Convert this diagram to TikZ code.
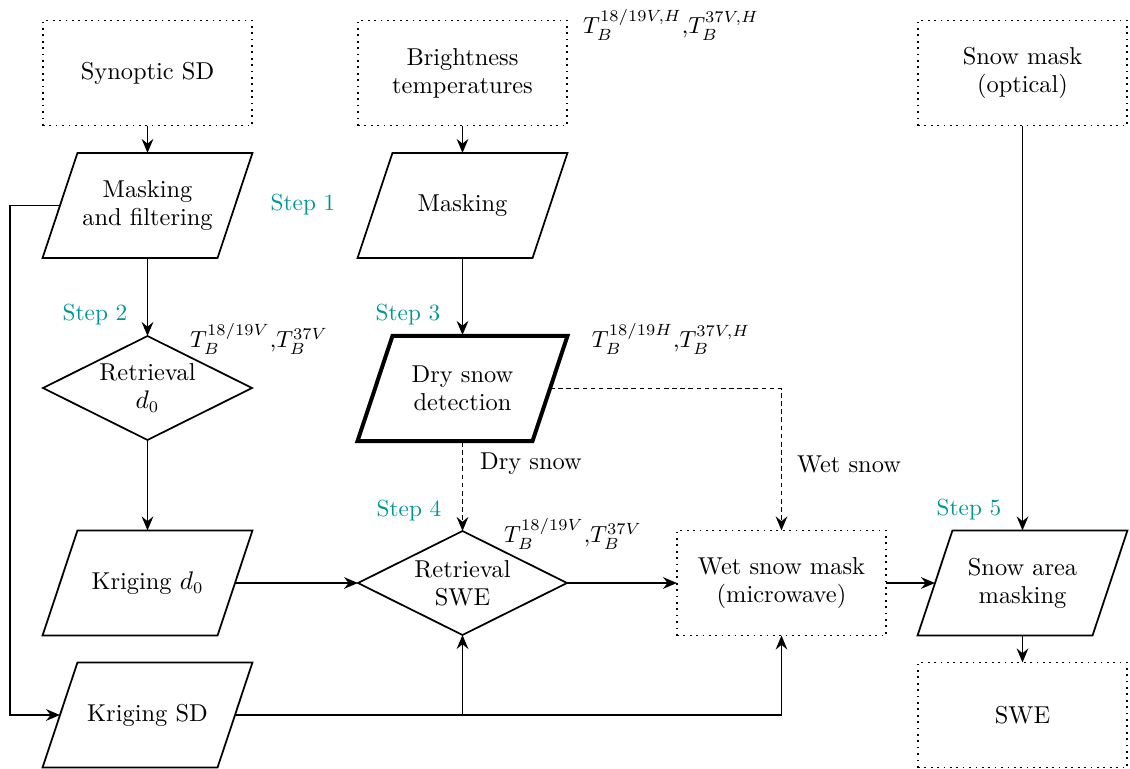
\documentclass[tikz,border=0pt]{standalone}
\usetikzlibrary{shapes.geometric,arrows.meta,calc}
\definecolor{stepcol}{RGB}{0,150,150}
\begin{document}
\begin{tikzpicture}[x=0.43pt,y=-0.43pt,
  every node/.style={outer sep=0pt,font=\fontsize{10.5}{12}\selectfont},
  base/.style={line width=0.75pt,align=center,inner sep=2pt},
  dbox/.style={base,draw,rectangle,dotted,minimum width=89.9pt,minimum height=45.2pt},
  para/.style={base,rectangle,minimum width=75.25pt,minimum height=45.2pt},
  dia/.style={base,draw,diamond,aspect=2,minimum width=89.9pt,minimum height=44.7pt,inner sep=0pt},
  conn/.style={line width=0.75pt,-{Stealth[length=6pt,width=5pt,inset=2pt]}},
  dconn/.style={conn,dash pattern=on 2pt off 1.5pt},
  steplbl/.style={text=stepcol,font=\normalsize},
  tb/.style={inner sep=0pt,font=\normalsize}]
\useasboundingbox (0,0) rectangle (1130,769);
% column 1
\node[dbox] (syn) at (147.5,73) {Synoptic SD};
\node[para] (mf) at (147.5,205.5) {Masking\\and filtering};
\node[dia] (rd) at (147.5,388) {Retrieval\\$d_0$};
\node[para] (kd) at (147.5,583) {Kriging $d_0$};
\node[para] (ks) at (147.5,715) {Kriging SD};
% column 2
\node[dbox] (bt) at (462.5,73) {Brightness\\temperatures};
\node[para] (mk) at (462.5,205.5) {Masking};
\node[para] (dry) at (462.5,388.5) {Dry snow\\detection};
\node[dia] (rs) at (462.5,583) {Retrieval\\SWE};
% column 3
\node[dbox] (wet) at (781.5,583) {Wet snow mask\\(microwave)};
% column 4
\node[dbox] (som) at (1022.5,73) {Snow mask\\(optical)};
\node[para] (sam) at (1022.5,583) {Snow area\\masking};
\node[dbox] (swe) at (1022.5,715) {SWE};
% parallelogram outlines
\foreach \n in {mf,mk,kd,ks,sam}{
  \draw[line width=0.75pt] ($(\n.north west)+(17.5,0)$) -- ($(\n.north east)+(17.5,0)$)
    -- ($(\n.south east)+(-17.5,0)$) -- ($(\n.south west)+(-17.5,0)$) -- cycle;}
\draw[line width=1.7pt] ($(dry.north west)+(17.5,0)$) -- ($(dry.north east)+(17.5,0)$)
    -- ($(dry.south east)+(-17.5,0)$) -- ($(dry.south west)+(-17.5,0)$) -- cycle;
% labels
\node[steplbl] (s1) at (303,205) {Step 1};
\node[steplbl] (s2) at (95,315) {Step 2};
\node[steplbl] (s3) at (408,315) {Step 3};
\node[steplbl] (s4) at (409,511) {Step 4};
\node[steplbl] (s5) at (969,510) {Step 5};
\node[tb] (t1) at (671,25) {$T_B^{18/19V,H}$,$T_B^{37V,H}$};
\node[tb] (t2) at (259,339) {$T_B^{18/19V}$,$T_B^{37V}$};
\node[tb] (t3) at (671,339) {$T_B^{18/19H}$,$T_B^{37V,H}$};
\node[tb] (t4) at (573,534) {$T_B^{18/19V}$,$T_B^{37V}$};
\node (lds) at (531,464) {Dry snow};
\node (lws) at (849,464) {Wet snow};
\coordinate (lx) at (10,0);
% connectors
\draw[conn] (syn) -- (mf);
\draw[conn] (bt) -- (mk);
\draw[conn] (som) -- (sam);
\draw[conn] (mf) -- (rd);
\draw[conn] (mk) -- ($(dry.north)+(0,-1)$);
\draw[conn] (rd) -- (kd);
\draw[conn] (mf.west) -- (mf.west -| lx) |- (ks.west);
\draw[dconn] ($(dry.south)+(0,1)$) -- (rs);
\draw[dconn] (dry.east) -| (wet.north);
\draw[conn] (kd.east) -- (rs.west);
\draw[conn] (rs.east) -- (wet.west);
\draw[conn] (wet.east) -- (sam.west);
\draw[conn] (sam) -- (swe);
\draw[conn] (ks.east) -| (wet.south);
\coordinate (jn) at (rs.south |- ks.east);
\draw[conn] (jn) -- (rs.south);
\end{tikzpicture}
\end{document}
